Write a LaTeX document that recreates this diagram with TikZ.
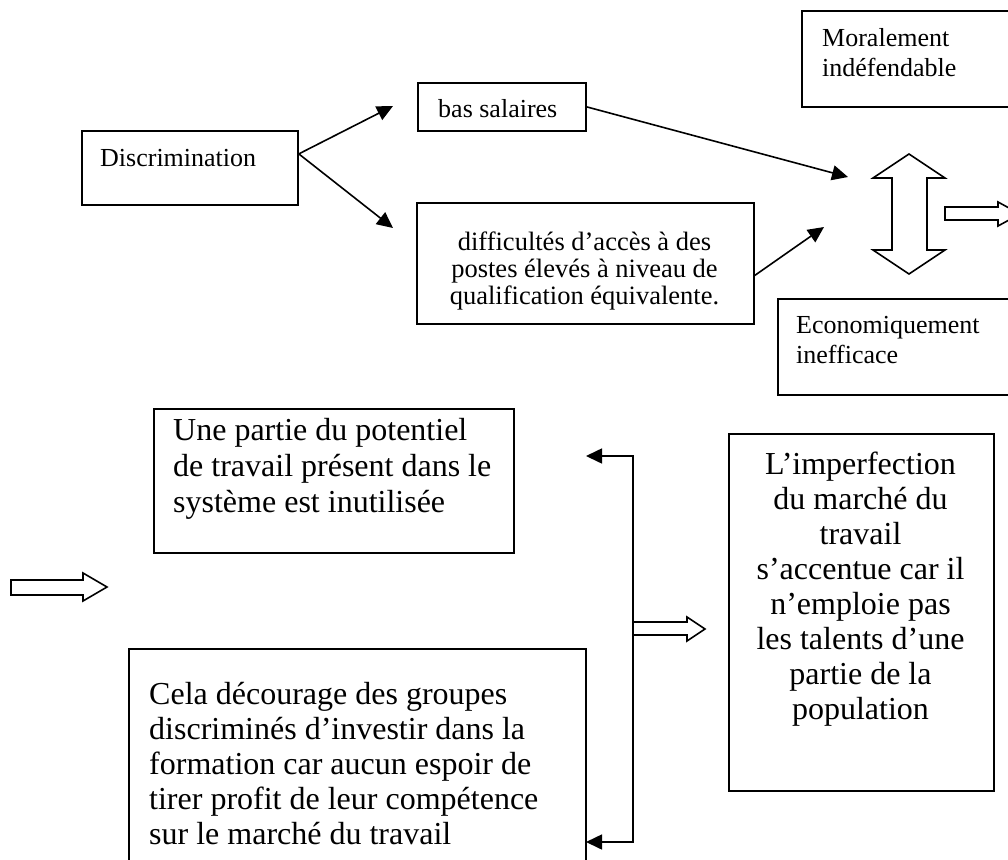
\documentclass[tikz,border=0pt]{standalone}
\usepackage{fontspec}
\setmainfont{Liberation Serif}
\usetikzlibrary{arrows.meta}

\tikzset{
  box/.style={draw, line width=1.8pt, inner sep=0pt, anchor=north west},
  smalltext/.style={inner sep=0pt, font=\fontsize{26}{30}\selectfont},
  bigtext/.style={inner sep=0pt, font=\fontsize{32}{35}\selectfont},
  link/.style={line width=1.6pt, -{Triangle[length=16pt,width=15pt]}},
  hollow/.style={draw, line width=1.6pt, fill=white, line join=miter},
}

\begin{document}
\begin{tikzpicture}[x=1pt,y=-1pt]
            \useasboundingbox (0,0) rectangle (1008,859);
            \clip (0,0) rectangle (1008,859);

            % boxes
            \node[box, minimum width=216pt, minimum height=74pt] (discr) at (81,130) {};
            \node[box, minimum width=168pt, minimum height=48pt] (salaires) at (417,82) {};
            \node[box, minimum width=337pt, minimum height=121pt] (acces) at (416,202) {};
            \node[box, minimum width=230pt, minimum height=96pt] (moral) at (801,10) {};
            \node[box, minimum width=250pt, minimum height=96pt] (econ) at (777,298) {};
            \node[box, minimum width=360pt, minimum height=144pt] (potentiel) at (153,408) {};
            \node[box, minimum width=457pt, minimum height=250pt] (decourage) at (128,648) {};
            \node[box, minimum width=265pt, minimum height=357pt] (imperfection) at (728,433) {};

            % texts
            \node[smalltext, anchor=base west] (tdiscr) at (100,166) {Discrimination};
            \node[smalltext, anchor=base west] (tsalaires) at (438,117) {bas salaires};
            \node[inner sep=0pt, font=\fontsize{26.5}{27}\selectfont, anchor=north, align=center] (tacces) at (584.5,232)
                {difficultés d’accès à des\\postes élevés à niveau de\\qualification équivalente.};
            \node[smalltext, anchor=north west, align=left] (tmoral) at (822,28) {Moralement\\indéfendable};
            \node[smalltext, anchor=north west, align=left] (tecon) at (796,316.5) {Economiquement\\inefficace};
            \node[bigtext, font=\fontsize{32}{36}\selectfont, anchor=north west, align=left] (tpotentiel) at (173,418)
                {Une partie du potentiel\\de travail présent dans le\\système est inutilisée};
            \node[bigtext, anchor=north west, align=left] (tdecourage) at (149,682)
                {Cela décourage des groupes\\discriminés d’investir dans la\\formation car aucun espoir de\\tirer profit de leur compétence\\sur le marché du travail};
            \node[bigtext, anchor=north, align=center] (timperfection) at (860.5,452)
                {L’imperfection\\du marché du\\travail\\s’accentue car il\\n’emploie pas\\les talents d’une\\partie de la\\population};

            % arrows
            \coordinate (hautsal) at (393,106);
            \coordinate (basacc) at (393,228);
            \coordinate (versmoral) at (848,177);
            \coordinate (versecon) at (824,227);
            \draw[link] ([yshift=14pt]discr.east) -- (hautsal);
            \draw[link] ([yshift=14pt]discr.east) -- (basacc);
            \draw[link] (salaires.east) -- (versmoral);
            \draw[link] ([yshift=-12pt]acces.east) -- (versecon);

            \coordinate (brhaut) at (633,456);
            \coordinate (brbas) at (633,842);
            \coordinate (pointhaut) at (586,456);
            \coordinate (pointbas) at (586,842);
            \draw[line width=1.6pt, {Triangle[length=16pt,width=15pt]}-{Triangle[length=16pt,width=15pt]}]
                (pointhaut) -- (brhaut) -- (brbas) -- (pointbas);

            % hollow arrows
            \draw[hollow] (909,154) -- (945,178) -- (927,178) -- (927,250) -- (945,250) -- (909,274)
                -- (873,250) -- (892,250) -- (892,178) -- (873,178) -- cycle;
            \draw[hollow] (945,207) -- (998,207) -- (998,202) -- (1020,214) -- (998,226) -- (998,220) -- (945,220) -- cycle;
            \draw[hollow] (11,580) -- (83,580) -- (83,573) -- (107,587) -- (83,601) -- (83,595) -- (11,595) -- cycle;
            \draw[hollow] (633,622) -- (687,622) -- (687,617) -- (705,629) -- (687,641) -- (687,635) -- (633,635) -- cycle;

\end{tikzpicture}
\end{document}
